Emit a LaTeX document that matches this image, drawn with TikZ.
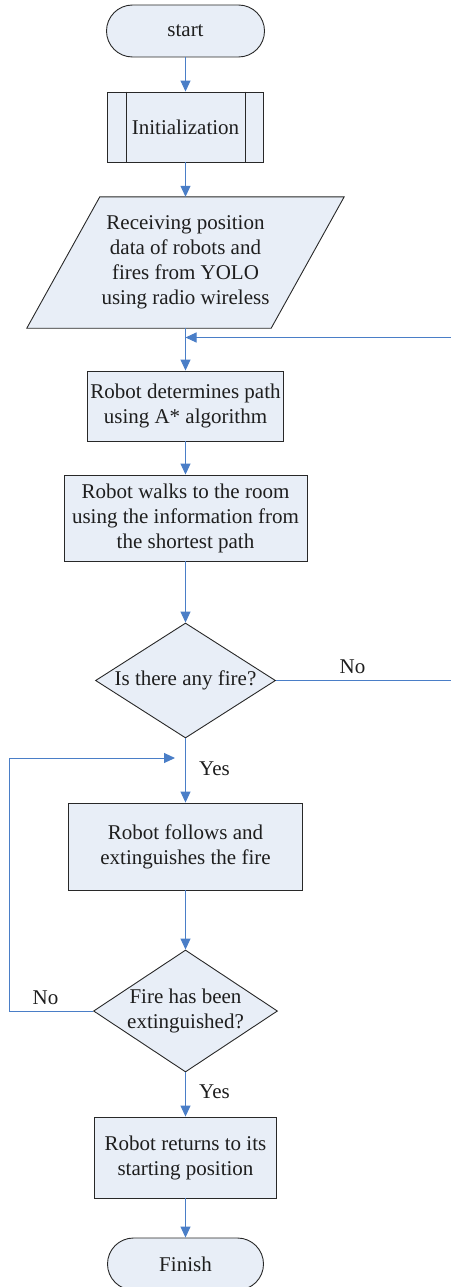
\documentclass[tikz,border=0pt]{standalone}
\usepackage{fontspec}
\setmainfont{Liberation Serif}
\usetikzlibrary{shapes.geometric,arrows.meta,calc}
\definecolor{fillc}{RGB}{232,238,247}
\definecolor{linec}{RGB}{74,126,199}
\definecolor{edgec}{RGB}{40,40,40}
\definecolor{txtc}{RGB}{30,30,30}
\pgfdeclarelayer{bg}
\pgfsetlayers{bg,main}
\begin{document}
\begin{tikzpicture}[x=1pt,y=-1pt,
  every node/.style={font=\fontsize{21}{25}\selectfont, text=txtc, inner sep=0pt},
  box/.style={draw=edgec, fill=fillc, line width=0.9pt, rectangle, align=center},
  term/.style={box},
  dia/.style={draw=edgec, fill=fillc, line width=0.9pt, diamond, inner sep=0pt},
  para/.style={draw=edgec, fill=fillc, line width=0.9pt},
  arr/.style={draw=linec, line width=1pt, -{Triangle[width=10pt,length=11pt]}},
  lbl/.style={anchor=base}
]
\useasboundingbox (0,0) rectangle (450,1287);

\node[term, rounded corners=26pt, minimum width=158, minimum height=52] (start) at (185.5,31) {start};
\node[box, minimum width=156, minimum height=70] (init) at (185.5,127) {Initialization};
\draw[draw=edgec, line width=0.9pt] ($(init.north west)+(19,0)$) -- ($(init.south west)+(19,0)$);
\draw[draw=edgec, line width=0.9pt] ($(init.north east)+(-19,0)$) -- ($(init.south east)+(-19,0)$);

\node[align=center, minimum width=244, minimum height=131] (io) at (185.5,262.5)
  {Receiving position\\data of robots and\\fires from YOLO\\using radio wireless};
\begin{pgfonlayer}{bg}
\draw[para] ($(io.north west)+(36.5,0)$) -- ($(io.north east)+(36.5,0)$) -- ($(io.south east)+(-36.5,0)$) -- ($(io.south west)+(-36.5,0)$) -- cycle;
\end{pgfonlayer}

\node[box, minimum width=196, minimum height=70] (det) at (185.5,406) {Robot determines path\\using A* algorithm};
\node[box, minimum width=243, minimum height=86] (walk) at (185.5,518) {Robot walks to the room\\using the information from\\the shortest path};
\node[dia, minimum width=180, minimum height=115, label={center:Is there any fire?}] (d1) at (185.5,680.5) {};
\node[box, minimum width=234, minimum height=87] (follow) at (185.5,846.5) {Robot follows and\\extinguishes the fire};
\node[dia, minimum width=184, minimum height=122, label={[align=center]center:Fire has been\\extinguished?}] (d2) at (185.5,1011) {};
\node[box, minimum width=182, minimum height=81] (ret) at (185.5,1157.5) {Robot returns to its\\starting position};
\node[term, rounded corners=26pt, minimum width=156, minimum height=52] (finish) at (185.5,1264) {Finish};

\coordinate (r1) at (453,680.5);
\coordinate (r2) at (453,337.5);
\coordinate (m1) at (185.5,337.5);
\coordinate (l1) at (9,1011);
\coordinate (l2) at (9,758);
\coordinate (m2) at (175,758);

\draw[arr] (start) -- (init);
\draw[arr] (init) -- (io);
\draw[arr] (io) -- (det);
\draw[arr] (det) -- (walk);
\draw[arr] (walk) -- (d1);
\draw[arr] (d1) -- (follow);
\draw[arr] (follow) -- (d2);
\draw[arr] (d2) -- (ret);
\draw[arr] (ret) -- (finish);
\draw[arr] (d1.east) -- (r1) -- (r2) -- (m1);
\draw[arr] (d2.west) -- (l1) -- (l2) -- (m2);

\node[lbl] (no1) at (352.5,673) {No};
\node[lbl] (yes1) at (214.5,775) {Yes};
\node[lbl] (no2) at (45.5,1004) {No};
\node[lbl] (yes2) at (214.5,1098) {Yes};
\end{tikzpicture}
\end{document}
